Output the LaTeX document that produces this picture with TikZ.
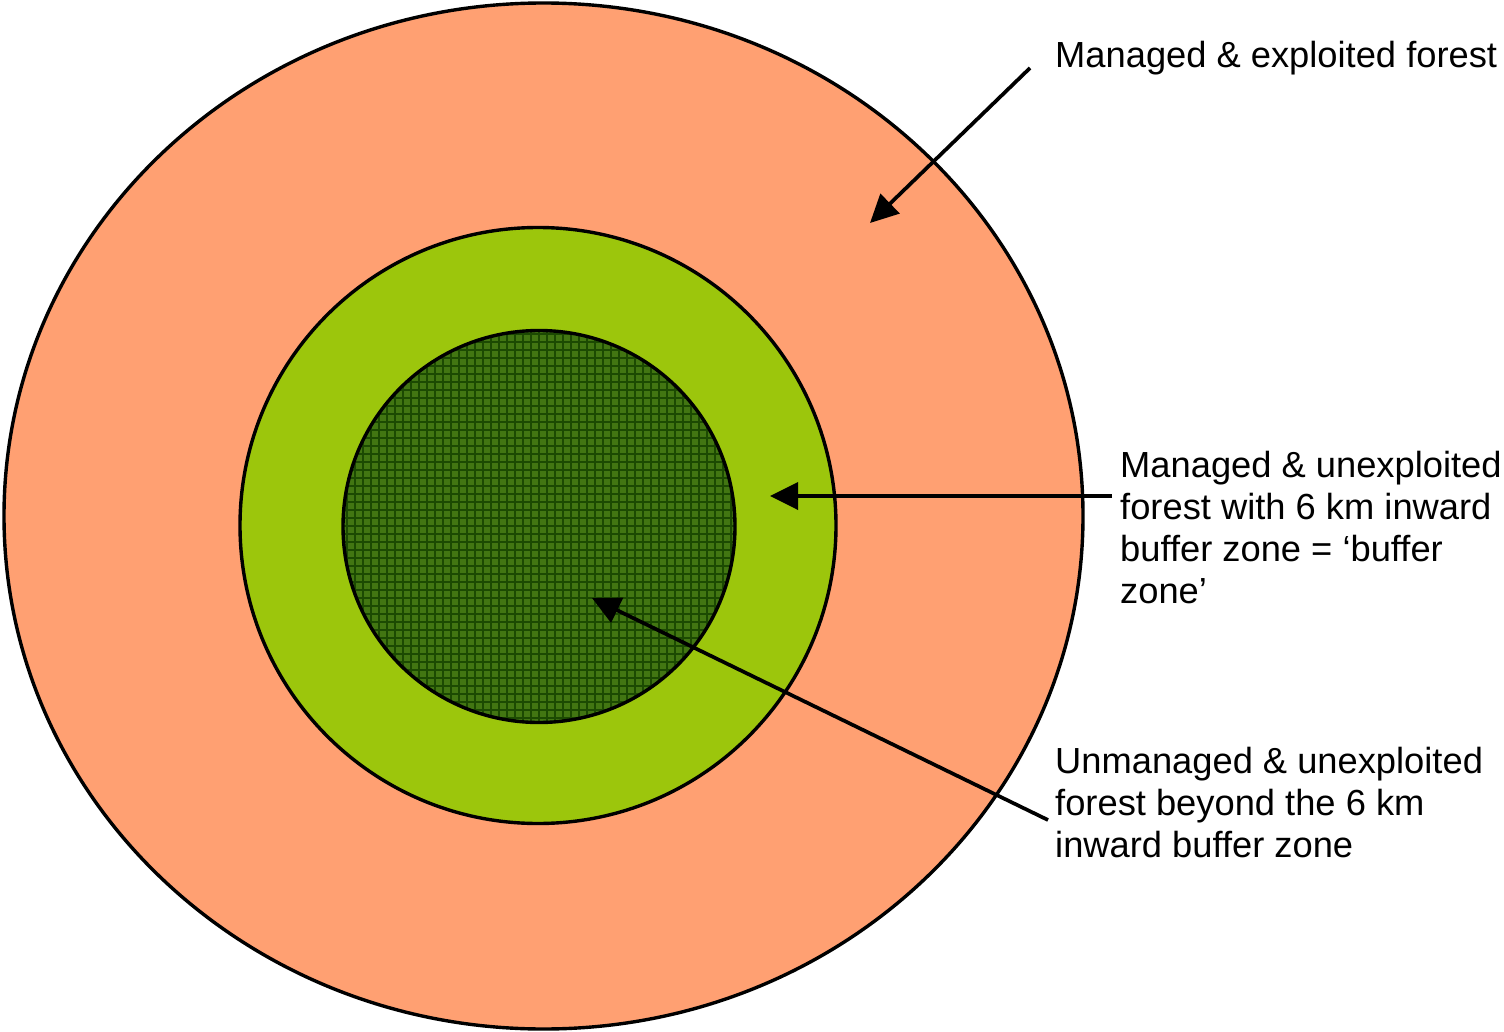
\documentclass[tikz,border=0pt]{standalone}
\usepackage{fontspec}
\setmainfont{Liberation Sans}
\usetikzlibrary{arrows.meta}
\definecolor{outerc}{RGB}{255,160,114}
\definecolor{midc}{RGB}{156,198,12}
\definecolor{innerc}{RGB}{66,118,18}
\definecolor{gridc}{RGB}{28,74,2}
\tikzset{
  ring/.style={draw=black, line width=3.4pt},
  lbl/.style={font=\fontsize{36.3}{42}\selectfont, align=left, inner sep=0pt, anchor=base west},
  pointer/.style={draw=black, line width=3.7pt, -{Triangle[length=28pt,width=27pt]}}
}
\begin{document}
\begin{tikzpicture}[x=1pt,y=-1pt]
\useasboundingbox (0,0) rectangle (1504,1032);
% zones
\fill[white] (0,0) rectangle (1504,1032);
\filldraw[ring, fill=outerc] (543.5,516) ellipse [x radius=539.5, y radius=513];
\filldraw[ring, fill=midc] (538,525.5) circle [radius=298];
\fill[innerc] (539,526.5) circle [radius=196];
\begin{scope}
  \clip (539,526.5) circle [radius=196];
  \foreach \k in {0,...,50} {
    \draw[gridc, line width=2.2pt] (339+8*\k,326) -- (339+8*\k,730);
    \draw[gridc, line width=2.2pt] (339,326+8*\k) -- (743,326+8*\k);
  }
\end{scope}
\draw[ring] (539,526.5) circle [radius=196];
% labels (base anchor = last line baseline)
\node[lbl] (l1) at (1055,68) {Managed \& exploited forest};
\node[lbl] (l2) at (1120,603) {Managed \& unexploited\\forest with 6 km inward\\buffer zone = ‘buffer\\zone’};
\node[lbl] (l3) at (1055,857) {Unmanaged \& unexploited\\forest beyond the 6 km\\inward buffer zone};
% connector ends
\coordinate (s1) at (1030,68);
\coordinate (t1) at (870,223);
\coordinate (s2) at (1112,496);
\coordinate (t2) at (770,496);
\coordinate (s3) at (1048,820);
\coordinate (t3) at (592,598);
\draw[pointer] (s1) -- (t1);
\draw[pointer] (s2) -- (t2);
\draw[pointer] (s3) -- (t3);
\end{tikzpicture}
\end{document}
